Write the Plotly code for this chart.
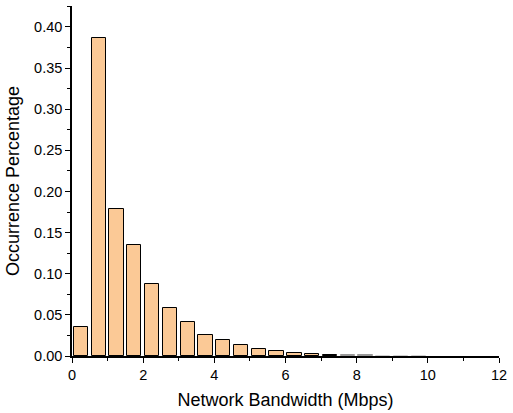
import plotly.graph_objects as go

# Bandwidth histogram: bin centres (Mbps) and occurrence fraction per bin
bin_centers = [0.25, 0.75, 1.25, 1.75, 2.25, 2.75, 3.25, 3.75, 4.25, 4.75,
               5.25, 5.75, 6.25, 6.75, 7.25, 7.75, 8.25, 8.75, 9.25, 9.75]
occurrence = [0.035, 0.386, 0.179, 0.135, 0.087, 0.058, 0.041, 0.026, 0.019, 0.013,
              0.0085, 0.0055, 0.0040, 0.0025, 0.0018, 0.0012, 0.0008, 0.0005, 0.0003, 0.0002]

x_ticks = [0, 2, 4, 6, 8, 10, 12]
y_ticks = [0.00, 0.05, 0.10, 0.15, 0.20, 0.25, 0.30, 0.35, 0.40]

# near-empty bins get a faint outline so they read as hairlines
outline_colors = ["#000000" if v >= 0.0015 else "#999999" if v >= 0.0007 else "#d0d0d0"
                  for v in occurrence]

fig = go.Figure(
    go.Bar(
        x=bin_centers,
        y=occurrence,
        width=0.4,
        marker=dict(color="#FBC996", line=dict(color=outline_colors, width=1)),
    )
)

font_family = "Liberation Sans, Arial, sans-serif"
axis_font = dict(family=font_family, size=14.5, color="#000000")
title_font = dict(family=font_family, size=18, color="#000000")

fig.update_layout(
    width=513,
    height=413,
    margin=dict(l=72, r=9, t=6, b=57),
    plot_bgcolor="white",
    paper_bgcolor="white",
    showlegend=False,
    bargap=0,
)

fig.update_xaxes(
    range=[0, 12],
    tickvals=x_ticks,
    ticktext=[str(v) for v in x_ticks],
    ticks="outside",
    ticklen=5,
    tickwidth=1,
    tickcolor="#000000",
    minor=dict(dtick=1, tick0=0, ticks="outside", ticklen=3, tickcolor="#000000", tickwidth=1, showgrid=False),
    showline=True,
    linecolor="#000000",
    linewidth=1.5,
    showgrid=False,
    zeroline=False,
    tickfont=axis_font,
    title=dict(text="Network Bandwidth (Mbps)", font=title_font, standoff=11),
)

fig.update_yaxes(
    range=[0, 0.4254],
    tickvals=y_ticks,
    tickformat=".2f",
    ticks="outside",
    ticklen=5,
    tickwidth=1,
    tickcolor="#000000",
    minor=dict(dtick=0.025, tick0=0, ticks="outside", ticklen=3, tickcolor="#000000", tickwidth=1, showgrid=False),
    showline=True,
    linecolor="#000000",
    linewidth=1.5,
    showgrid=False,
    zeroline=False,
    tickfont=axis_font,
    title=dict(text="Occurrence Percentage", font=title_font, standoff=10),
)

fig.write_html("out.html")
